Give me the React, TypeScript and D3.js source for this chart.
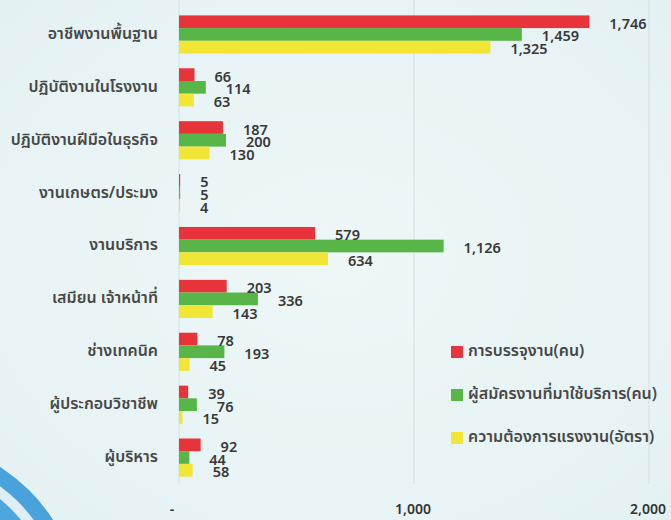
import React from "react";
import * as d3 from "d3";

const categories = [
  "อาชีพงานพื้นฐาน",
  "ปฏิบัติงานในโรงงาน",
  "ปฏิบัติงานฝีมือในธุรกิจ",
  "งานเกษตร/ประมง",
  "งานบริการ",
  "เสมียน เจ้าหน้าที่",
  "ช่างเทคนิค",
  "ผู้ประกอบวิชาชีพ",
  "ผู้บริหาร",
];
const placement = [1746, 66, 187, 5, 579, 203, 78, 39, 92];
const applicants = [1459, 114, 200, 5, 1126, 336, 193, 76, 44];
const demand = [1325, 63, 130, 4, 634, 143, 45, 15, 58];
const seriesNames = [
  "การบรรจุงาน(คน)",
  "ผู้สมัครงานที่มาใช้บริการ(คน)",
  "ความต้องการแรงงาน(อัตรา)",
];
const seriesColors = ["#e8333a", "#58b547", "#f1e535"];
const xTickValues = [0, 1000, 2000];
const xTickLabels = ["-", "1,000", "2,000"];

const W = 671;
const H = 520;
const FONT = "Tahoma, 'Noto Sans Thai', 'DejaVu Sans', sans-serif";

export default function App() {
  const series = [placement, applicants, demand];
  const x = d3.scaleLinear().domain([0, 2000]).range([179, 649]);
  const y = d3
    .scaleBand<string>()
    .domain(categories)
    .range([8, 484])
    .paddingInner(0.28)
    .paddingOuter(0.14);
  const inner = d3
    .scaleBand<number>()
    .domain([0, 1, 2])
    .range([0, y.bandwidth()]);
  const fmt = d3.format(",");

  return (
    <div style={{ position: "absolute", left: 0, top: 0 }}>
      <svg width={W} height={H} style={{ display: "block" }}>
        <defs>
          <radialGradient id="bg" cx="50%" cy="50%" r="70%">
            <stop offset="0%" stopColor="#eef7f8" />
            <stop offset="100%" stopColor="#e4f1f3" />
          </radialGradient>
        </defs>
        <rect x={0} y={0} width={W} height={H} fill="url(#bg)" />
        {/* decorative circle bottom-left */}
        <circle cx={-95} cy={615} r={176} fill="#4aa2dc" />
        <circle cx={-95} cy={615} r={160} fill="#dfeef4" />
        <circle cx={-95} cy={615} r={150} fill="#4fa6de" />
        {/* gridlines */}
        {xTickValues.map((t) => (
          <line
            key={"g" + t}
            x1={x(t)}
            x2={x(t)}
            y1={0}
            y2={484}
            stroke="#d3dfe2"
            strokeWidth={1}
          />
        ))}
        {/* bars */}
        {categories.map((c, i) => (
          <g key={c} transform={`translate(0,${y(c)})`}>
            {series.map((s, k) => (
              <rect
                key={k}
                x={x(0)}
                y={inner(k)}
                width={Math.max(0, x(s[i]) - x(0))}
                height={inner.bandwidth()}
                fill={seriesColors[k]}
              />
            ))}
          </g>
        ))}
        {/* value labels */}
        {categories.map((c, i) => (
          <g key={"l" + c} transform={`translate(0,${y(c)})`}>
            {series.map((s, k) => (
              <text
                key={k}
                x={x(s[i]) + 20}
                y={(inner(k) as number) + inner.bandwidth() / 2 + 3}
                dominantBaseline="middle"
                fontFamily={FONT}
                fontSize={14.5}
                fontWeight={600}
                fill="#383838"
              >
                {fmt(s[i])}
              </text>
            ))}
          </g>
        ))}
        {/* category labels */}
        {categories.map((c) => (
          <text
            key={"c" + c}
            x={158}
            y={(y(c) as number) + y.bandwidth() / 2}
            textAnchor="end"
            dominantBaseline="middle"
            fontFamily={FONT}
            fontSize={16}
            fontWeight={600}
            fill="#474747"
          >
            {c}
          </text>
        ))}
        {/* x tick labels */}
        {xTickValues.map((t, i) => (
          <text
            key={"t" + t}
            x={i === 0 ? x(t) - 7 : x(t) - 1}
            y={510}
            textAnchor="middle"
            dominantBaseline="middle"
            fontFamily={FONT}
            fontSize={14}
            fontWeight={600}
            fill="#333"
          >
            {xTickLabels[i]}
          </text>
        ))}
        {/* legend */}
        {seriesNames.map((n, k) => (
          <g key={n} transform={`translate(451,${352 + k * 43})`}>
            <rect x={0} y={-6} width={12} height={12} fill={seriesColors[k]} />
            <text
              x={17}
              y={0}
              dominantBaseline="middle"
              fontFamily={FONT}
              fontSize={16}
              fontWeight={600}
              fill="#474747"
            >
              {n}
            </text>
          </g>
        ))}
      </svg>
    </div>
  );
}
